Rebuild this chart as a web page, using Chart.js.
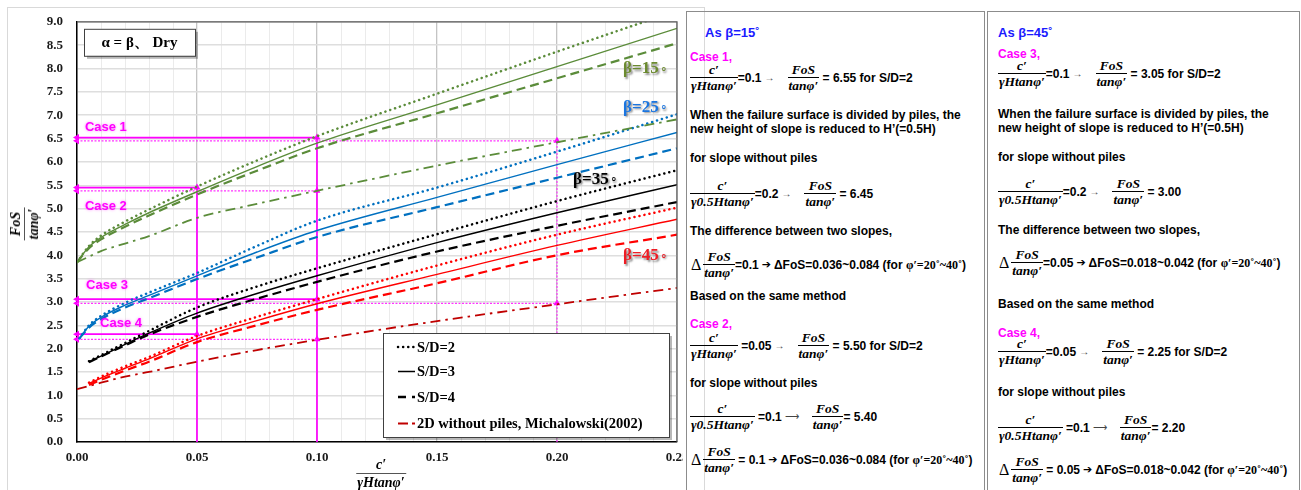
<!DOCTYPE html>
<html>
<head>
<meta charset="utf-8">
<script src="https://cdn.jsdelivr.net/npm/chart.js@4.4.1/dist/chart.umd.min.js"></script>
<style>
  body { margin: 0; background: #fff; width: 1301px; height: 490px; overflow: hidden; position: relative; }
  #frame { position: absolute; left: 7px; top: 7px; width: 696px; height: 500px; border: 1px solid #d9d9d9; }
  #chartBox { position: absolute; left: 0; top: 0; width: 683px; height: 490px; overflow: hidden; }
  .panel { position: absolute; top: 11px; height: 490px; border: 1.5px solid #8c8c8c; border-bottom: none; }
  .t { position: absolute; white-space: nowrap; transform: translateY(-50%); font: bold 12px "Liberation Sans", Arial, sans-serif; color: #000; line-height: 14px; }
  .row { display: flex; align-items: center; font-size: 12px; }
  .fr { display: inline-flex; flex-direction: column; font: italic bold 13.5px "Liberation Serif", "Times New Roman", serif; line-height: 12px; text-align: center; }
  .fr span:first-child { padding: 0 1px 1px; }
  .fr span:last-child { border-top: 1.3px solid #000; padding: 2px 1px 0; }
  .big { position: absolute; font-size: 14px; line-height: 14px; }
  .big span:last-child { border-top: 1px solid #555; }
  .case { color: #ff00ff; }
  .head { color: #1a1aff; font-size: 13px; }
  .ar { font-weight: normal; font-size: 10px; color: #444; margin: 0 13px 0 3px; }
  .ha { font-family: "DejaVu Sans", sans-serif; font-size: 11px; margin: 0 3px; }
  .sf { font-family: "Liberation Serif", serif; font-size: 12px; }
  .dl { font: 16px "Liberation Serif", serif; margin-right: 2px; }
</style>
</head>
<body>
<div id="frame"></div>
<div id="chartBox"><canvas id="fosChart" width="720" height="490"></canvas></div>
<div class="fr big" style="left:25px;top:224px;transform:translate(-50%,-50%) rotate(-90deg)"><span>FoS</span><span>tanφ′</span></div>
<div class="fr big" style="left:381px;top:474px;transform:translate(-50%,-50%)"><span>c′</span><span>γHtanφ′</span></div>
<div class="panel" style="left:686px;width:297px"></div>
<div class="panel" style="left:987px;width:311px"></div>
<div id="notes"></div>

<script>
// c'/(γH tanφ') sample points
const xFull = [0, 0.005, 0.01, 0.02, 0.03, 0.05, 0.075, 0.1, 0.15, 0.2, 0.25];
const xBlue = [0.001, 0.005, 0.01, 0.02, 0.03, 0.05, 0.075, 0.1, 0.15, 0.2, 0.25];
const xLate = [0.005, 0.01, 0.02, 0.03, 0.05, 0.075, 0.1, 0.15, 0.2, 0.25];

// FoS/tanφ'
const b15_sd2 = [3.85, 4.2, 4.42, 4.72, 4.98, 5.47, 6.03, 6.55, 7.46, 8.36, 9.24];
const b15_sd3 = [3.85, 4.18, 4.38, 4.66, 4.91, 5.36, 5.9, 6.4, 7.22, 8.04, 8.86];
const b15_sd4 = [3.85, 4.15, 4.34, 4.61, 4.85, 5.3, 5.81, 6.29, 7.04, 7.79, 8.54];
const b15_2d = [3.85, 3.97, 4.09, 4.25, 4.41, 4.8, 5.1, 5.38, 5.92, 6.42, 6.91];
const b25_sd2 = [2.22, 2.5, 2.7, 2.98, 3.2, 3.62, 4.2, 4.74, 5.45, 6.22, 7.02];
const b25_sd3 = [2.22, 2.48, 2.67, 2.93, 3.14, 3.56, 4.07, 4.53, 5.24, 5.94, 6.63];
const b25_sd4 = [2.22, 2.45, 2.63, 2.88, 3.08, 3.49, 3.95, 4.39, 5.03, 5.66, 6.29];
const b35_sd2 = [1.73, 1.86, 2.12, 2.38, 2.88, 3.33, 3.72, 4.45, 5.16, 5.82];
const b35_sd3 = [1.72, 1.84, 2.09, 2.33, 2.76, 3.18, 3.56, 4.27, 4.91, 5.51];
const b35_sd4 = [1.71, 1.83, 2.07, 2.3, 2.68, 3.07, 3.43, 4.08, 4.63, 5.14];
const b45_sd2 = [1.27, 1.4, 1.62, 1.82, 2.27, 2.68, 3.06, 3.78, 4.44, 5.02];
const b45_sd3 = [1.25, 1.37, 1.58, 1.78, 2.21, 2.6, 2.96, 3.59, 4.21, 4.77];
const b45_sd4 = [1.22, 1.33, 1.53, 1.72, 2.14, 2.5, 2.83, 3.4, 4.0, 4.44];
const b45_2d = [1.13, 1.2, 1.27, 1.4, 1.5, 1.72, 1.97, 2.19, 2.59, 2.95, 3.3];

// worked cases (magenta guides)
const caseX = [0.1, 0.05, 0.1, 0.05];
const caseY = [6.52, 5.45, 3.06, 2.31];
const noPileX = [0.2, 0.1, 0.2, 0.1];
const noPileY = [6.45, 5.38, 2.97, 2.2];

const caseNames = ["Case 1", "Case 2", "Case 3", "Case 4"];
const betaNames = ["β=15", "β=25", "β=35", "β=45"];
const legendNames = ["S/D=2", "S/D=3", "S/D=4", "2D without piles, Michalowski(2002)"];

// label placement (data units)
const caseTextPos = [[0.0033, 6.73], [0.0033, 5.05], [0.0038, 3.35], [0.0096, 2.54]];
const betaTextPos = [[0.2275, 7.99], [0.2275, 7.17], [0.2067, 5.63], [0.2275, 3.99]];
const betaColors = ["#6b8a2f", "#1a75e0", "#000000", "#ee1c24"];

const GREEN = "#5b8c3a", BLUE = "#0070c0", BLACK = "#000000", RED = "#ff0000", DRED = "#c00000", MAG = "#ff00ff";

const styles = {
    dot: { borderWidth: 2.5, borderDash: [0.1, 5], borderCapStyle: "round" },
    solid: { borderWidth: 1.4 },
    dash: { borderWidth: 2.2, borderDash: [9, 5] },
    dashdot: { borderWidth: 1.8, borderDash: [10, 5, 2.5, 5] }
};

function series(xs, ys, color, style) {
    return {
        data: xs.map((x, i) => ({ x, y: ys[i] })),
        borderColor: color,
        pointRadius: 0,
        fill: false,
        cubicInterpolationMode: "monotone",
        ...styles[style]
    };
}

function seg(x0, y0, x1, y1, dotted) {
    return {
        data: [{ x: x0, y: y0 }, { x: x1, y: y1 }],
        borderColor: dotted ? "#ff33ff" : MAG,
        borderWidth: dotted ? 1.2 : 1.7,
        borderDash: dotted ? [2, 1.5] : [],
        pointRadius: 0
    };
}

const datasets = [
    series(xFull, b15_sd2, GREEN, "dot"),
    series(xFull, b15_sd3, GREEN, "solid"),
    series(xFull, b15_sd4, GREEN, "dash"),
    series(xFull, b15_2d, GREEN, "dashdot"),
    series(xBlue, b25_sd2, BLUE, "dot"),
    series(xBlue, b25_sd3, BLUE, "solid"),
    series(xBlue, b25_sd4, BLUE, "dash"),
    series(xLate, b35_sd2, BLACK, "dot"),
    series(xLate, b35_sd3, BLACK, "solid"),
    series(xLate, b35_sd4, BLACK, "dash"),
    series(xLate, b45_sd2, RED, "dot"),
    series(xLate, b45_sd3, RED, "solid"),
    series(xLate, b45_sd4, RED, "dash"),
    series(xFull, b45_2d, DRED, "dashdot")
];

caseX.forEach((cx, i) => datasets.push(seg(0, caseY[i], cx, caseY[i], false)));
noPileX.forEach((nx, i) => datasets.push(seg(0, noPileY[i], nx, noPileY[i], true)));
datasets.push(seg(caseX[0], 0, caseX[0], caseY[0], false));
datasets.push(seg(caseX[1], 0, caseX[1], caseY[1], false));
datasets.push(seg(noPileX[0], 0, noPileX[0], noPileY[0], true));

const arrowLeft = [...caseY, ...noPileY].map(v => ({ x: 0, y: v }));
const arrowUp = [...caseX.map((v, i) => ({ x: v, y: caseY[i] })), ...noPileX.map((v, i) => ({ x: v, y: noPileY[i] }))];
[[arrowLeft, 270], [arrowUp, 0]].forEach(([pts, rot]) => datasets.push({
    data: pts,
    showLine: false,
    pointStyle: "triangle",
    pointRadius: 4,
    pointRotation: rot,
    pointBackgroundColor: MAG,
    pointBorderColor: MAG,
    pointBorderWidth: 0,
    clip: false
}));

const isMajor = v => Math.abs(v / 0.05 - Math.round(v / 0.05)) < 1e-6;
const serifBold = '"Liberation Serif", "Times New Roman", serif';

const deco = {
    id: "deco",
    afterDatasetsDraw(chart) {
        const { ctx, chartArea: a, scales: { x, y } } = chart;
        ctx.save();

        ctx.strokeStyle = "#595959";
        ctx.lineWidth = 1.2;
        ctx.beginPath();
        ctx.moveTo(a.left, a.top); ctx.lineTo(a.right, a.top); ctx.lineTo(a.right, a.bottom);
        ctx.stroke();

        // case labels
        ctx.textBaseline = "middle";
        ctx.textAlign = "left";
        ctx.font = 'bold 13px "Liberation Sans", Arial, sans-serif';
        ctx.fillStyle = MAG;
        ctx.shadowColor = "rgba(255,0,255,0.45)";
        ctx.shadowBlur = 3;
        caseNames.forEach((t, i) => ctx.fillText(t, x.getPixelForValue(caseTextPos[i][0]), y.getPixelForValue(caseTextPos[i][1])));

        // beta labels
        ctx.shadowColor = "rgba(0,0,0,0.45)";
        ctx.shadowBlur = 2;
        ctx.shadowOffsetX = 1.5;
        ctx.shadowOffsetY = 1.5;
        betaNames.forEach((t, i) => {
            const px = x.getPixelForValue(betaTextPos[i][0]), py = y.getPixelForValue(betaTextPos[i][1]);
            ctx.font = "bold 17px " + serifBold;
            ctx.fillStyle = betaColors[i];
            ctx.fillText(t, px, py);
            const w = ctx.measureText(t).width;
            ctx.font = "12px " + serifBold;
            ctx.fillText("∘", px + w + 1, py + 1);
        });
        ctx.shadowColor = "transparent";
        ctx.shadowOffsetX = 0;
        ctx.shadowOffsetY = 0;
        ctx.shadowBlur = 0;

        // title box
        const bx = a.left + 7, by = a.top + 7, bw = 111, bh = 27;
        ctx.fillStyle = "rgba(0,0,0,0.28)";
        ctx.fillRect(bx + 3, by + 3, bw, bh);
        ctx.fillStyle = "#fff";
        ctx.fillRect(bx, by, bw, bh);
        ctx.strokeStyle = "#404040";
        ctx.lineWidth = 1;
        ctx.strokeRect(bx + 0.5, by + 0.5, bw, bh);
        ctx.fillStyle = "#000";
        ctx.textAlign = "center";
        ctx.font = "bold 15px " + serifBold;
        ctx.fillText("α = β、 Dry", bx + bw / 2, by + bh / 2 + 1);

        // legend
        const lx = a.right - 294, ly = a.bottom - 109, lw = 286, lh = 104;
        ctx.fillStyle = "rgba(0,0,0,0.28)";
        ctx.fillRect(lx + 3, ly + 3, lw, lh);
        ctx.fillStyle = "#fff";
        ctx.fillRect(lx, ly, lw, lh);
        ctx.strokeStyle = "#404040";
        ctx.strokeRect(lx + 0.5, ly + 0.5, lw, lh);
        const rows = [14, 38.5, 64, 90.5];
        const samples = [
            [BLACK, 2.5, [0.1, 5], "round"],
            [BLACK, 1.5, [], "butt"],
            [BLACK, 2.5, [8, 6], "butt"],
            [DRED, 2.2, [10, 4, 3, 4], "butt"]
        ];
        ctx.textAlign = "left";
        legendNames.forEach((t, i) => {
            const ry = ly + rows[i];
            const [c, w, d, cap] = samples[i];
            ctx.strokeStyle = c;
            ctx.lineWidth = w;
            ctx.setLineDash(d);
            ctx.lineCap = cap;
            ctx.beginPath();
            ctx.moveTo(lx + 15, ry); ctx.lineTo(lx + 32, ry);
            ctx.stroke();
            ctx.setLineDash([]);
            ctx.fillStyle = "#000";
            ctx.font = "bold 14.5px " + serifBold;
            ctx.fillText(t, lx + 34, ry + 1);
        });
        ctx.restore();
    }
};

new Chart(document.getElementById("fosChart"), {
    type: "line",
    data: { datasets },
    options: {
        responsive: false,
        animation: false,
        events: [],
        layout: { padding: { left: 0, top: 14, right: 43, bottom: 0 } },
        plugins: { legend: { display: false }, tooltip: { enabled: false } },
        scales: {
            x: {
                type: "linear",
                min: 0,
                max: 0.25,
                afterFit: s => { s.height = 48; },
                border: { color: "#000", width: 1.5 },
                grid: {
                    drawTicks: false,
                    color: c => isMajor(c.tick.value) ? "#c4c4c4" : "#ebebeb",
                    lineWidth: c => isMajor(c.tick.value) ? 1.3 : 1
                },
                ticks: {
                    stepSize: 0.01,
                    autoSkip: false,
                    maxRotation: 0,
                    padding: 8,
                    color: "#1a1a1a",
                    font: { family: serifBold, size: 13, weight: "bold" },
                    callback: v => isMajor(v) ? v.toFixed(2) : ""
                }
            },
            y: {
                min: 0,
                max: 9,
                afterFit: s => { s.width = 77; },
                border: { color: "#000", width: 1.5 },
                grid: { drawTicks: false, color: "#dedede", lineWidth: 1.4 },
                ticks: {
                    stepSize: 0.5,
                    padding: 14,
                    color: "#1a1a1a",
                    font: { family: serifBold, size: 13, weight: "bold" },
                    callback: v => v.toFixed(1)
                }
            }
        }
    },
    plugins: [deco]
});

// explanatory notes beside the chart
const frac = (n, d) => `<span class="fr"><span>${n}</span><span>${d}</span></span>`;
const F1 = frac("c′", "γHtanφ′"), F2 = frac("FoS", "tanφ′"), F3 = frac("c′", "γ0.5Htanφ′");
const AR = '<span class="ar">→</span>', LAR = '<span class="ar">⟶</span>', HA = '<span class="ha">➔</span>';
const PHI = '<span class="sf">φ′=20˚~40˚</span>';
const txt = s => `<span>${s}</span>`;
const delta = (eq, range) => '<span class="dl">Δ</span>' + F2 + txt(eq) + HA + txt("ΔFoS=" + range + " (for&nbsp;") + PHI + txt(")");

const notes = [
    [705, 33, "head", "As β=15˚"],
    [690, 57, "case", "Case 1,"],
    [690, 78, "row", F1 + txt("=0.1") + AR + F2 + txt("&nbsp;= 6.55 for S/D=2")],
    [690, 115, "", "When the failure surface is divided by piles, the"],
    [690, 129, "", "new height of slope is reduced to H’(=0.5H)"],
    [690, 158, "", "for slope without piles"],
    [690, 194, "row", F3 + txt("=0.2") + AR + F2 + txt("&nbsp;= 6.45")],
    [690, 231, "", "The difference between two slopes,"],
    [691, 265, "row", delta("=0.1", "0.036~0.084")],
    [690, 296, "", "Based on the same method"],
    [690, 324, "case", "Case 2,"],
    [690, 346, "row", F1 + txt("&nbsp;=0.05") + AR + F2 + txt("&nbsp;= 5.50 for S/D=2")],
    [690, 383, "", "for slope without piles"],
    [690, 417, "row", F3 + txt("&nbsp;=0.1") + LAR + F2 + txt("= 5.40")],
    [691, 460, "row", delta("&nbsp;= 0.1", "0.036~0.084")],

    [998, 33, "head", "As β=45˚"],
    [998, 54, "case", "Case 3,"],
    [998, 74, "row", F1 + txt("=0.1") + AR + F2 + txt("&nbsp;= 3.05 for S/D=2")],
    [998, 113.5, "", "When the failure surface is divided by piles, the"],
    [998, 128, "", "new height of slope is reduced to H’(=0.5H)"],
    [998, 157, "", "for slope without piles"],
    [998, 192, "row", F3 + txt("=0.2") + AR + F2 + txt("&nbsp;= 3.00")],
    [998, 230, "", "The difference between two slopes,"],
    [999, 263, "row", delta("=0.05", "0.018~0.042")],
    [998, 304, "", "Based on the same method"],
    [998, 333, "case", "Case 4,"],
    [998, 352, "row", F1 + txt("=0.05") + AR + F2 + txt("&nbsp;= 2.25 for S/D=2")],
    [998, 392, "", "for slope without piles"],
    [998, 428, "row", F3 + txt("&nbsp;=0.1") + LAR + F2 + txt("= 2.20")],
    [999, 470, "row", delta("&nbsp;= 0.05", "0.018~0.042")]
];

const box = document.getElementById("notes");
notes.forEach(([left, top, cls, html]) => {
    const el = document.createElement("div");
    el.className = "t " + cls;
    el.style.left = left + "px";
    el.style.top = top + "px";
    el.innerHTML = html;
    box.appendChild(el);
});
</script>
</body>
</html>
